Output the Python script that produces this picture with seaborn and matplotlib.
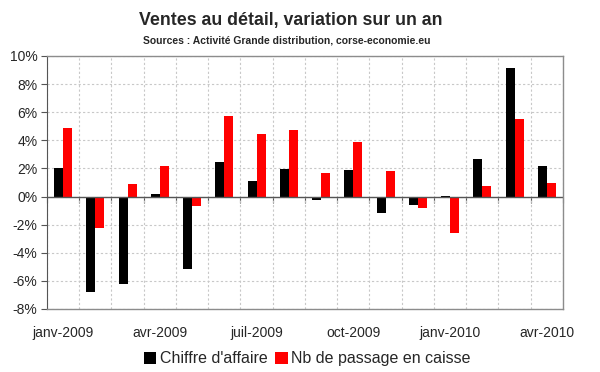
import pandas as pd
import matplotlib.pyplot as plt
import seaborn as sns
from matplotlib.ticker import FuncFormatter

# Data (percent change over one year)
mois = ["janv-2009", "févr-2009", "mars-2009", "avr-2009", "mai-2009", "juin-2009",
        "juil-2009", "août-2009", "sept-2009", "oct-2009", "nov-2009", "déc-2009",
        "janv-2010", "févr-2010", "mars-2010", "avr-2010"]
chiffre_affaire = [2.05, -6.8, -6.2, 0.2, -5.15, 2.45, 1.1, 1.95, -0.25, 1.9, -1.15, -0.6,
                   0.03, 2.7, 9.15, 2.15]
nb_passage = [4.9, -2.25, 0.9, 2.2, -0.7, 5.75, 4.45, 4.7, 1.65, 3.85, 1.8, -0.85,
              -2.6, 0.75, 5.55, 0.95]
series = ["Chiffre d'affaire", "Nb de passage en caisse"]
yticks = [-8, -6, -4, -2, 0, 2, 4, 6, 8, 10]

df = pd.DataFrame({
    "mois": mois * 2,
    "serie": [series[0]] * len(mois) + [series[1]] * len(mois),
    "valeur": chiffre_affaire + nb_passage,
})

sns.set_style("white")
plt.rcParams["font.family"] = ["Liberation Sans", "DejaVu Sans"]

fig = plt.figure(figsize=(6, 3.72), dpi=100)
ax = fig.add_axes([0.0783, 0.1694, 0.8600, 0.6801])

sns.barplot(data=df, x="mois", y="valeur", hue="serie", palette=["black", "#ff0000"],
            width=0.56, saturation=1, linewidth=0, ax=ax, legend=True)

n = len(mois)
ax.set_xlim(-0.5, n - 0.5)
ax.set_ylim(-8, 10)
ax.set_yticks(yticks)
ax.yaxis.set_major_formatter(FuncFormatter(lambda v, p: f"{v:.0f}%"))
ax.tick_params(axis="y", which="major", left=True, length=4, width=0.8,
               color="#555555", labelsize=10, pad=3)

# category labels every 3 months, under the plot
ax.set_xticks(range(0, n, 3))
ax.set_xticklabels([mois[i] for i in range(0, n, 3)], fontsize=10)
ax.tick_params(axis="x", which="major", length=0, pad=12)
ax.set_xticks([i - 0.5 for i in range(n + 1)], minor=True)
ax.tick_params(axis="x", which="minor", length=0)
ax.set_xlabel("")
ax.set_ylabel("")

# dashed grid
ax.grid(True, axis="y", which="major", color="#c8c8c8", linestyle=(0, (2, 2)), lw=0.8)
ax.grid(True, axis="x", which="minor", color="#c8c8c8", linestyle=(0, (2, 2)), lw=0.8)
ax.grid(False, axis="x", which="major")
ax.set_axisbelow(True)

for side in ["top", "right", "bottom"]:
    ax.spines[side].set_color("#8c8c8c")
    ax.spines[side].set_linewidth(1)
ax.spines["left"].set_color("#555555")

# category axis crossing at 0
ax.axhline(0, color="#555555", lw=1, zorder=1.5)
zero = ax.secondary_xaxis(8 / 18)
zero.set_xticks([i - 0.5 for i in range(n + 1)])
zero.set_xticklabels([])
zero.tick_params(length=4, direction="out", color="#555555", width=0.8)
zero.spines["bottom"].set_visible(False)

ax.legend_.remove()
handles, labels = ax.get_legend_handles_labels()
fig.legend(handles[:2], labels[:2], loc="center", bbox_to_anchor=(0.512, 0.035),
           ncol=2, frameon=False, fontsize=11.5, handlelength=0.8, handleheight=0.8,
           handletextpad=0.2, columnspacing=0.5)

fig.text(0.485, 0.945, "Ventes au détail, variation sur un an", ha="center", va="center",
         fontsize=12.8, fontweight="bold")
fig.text(0.478, 0.89, "Sources : Activité Grande distribution, corse-economie.eu",
         ha="center", va="center", fontsize=7.5, fontweight="bold")

fig.savefig("out.png", dpi=100)
